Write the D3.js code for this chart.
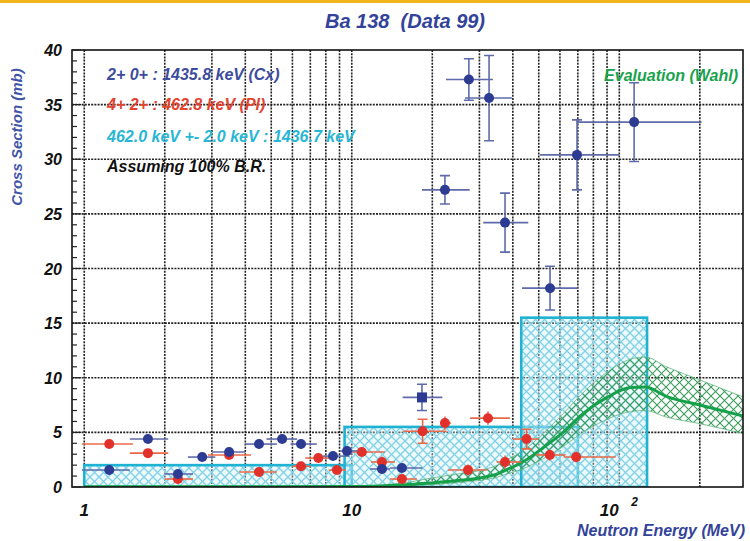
<!DOCTYPE html>
<html>
<head>
<meta charset="utf-8">
<script src="https://cdn.jsdelivr.net/npm/d3@7"></script>
<style>
  body { margin: 0; background: #fff; }
  svg text { font-family: "Liberation Sans", Arial, sans-serif; font-weight: bold; font-style: italic; white-space: pre; }
</style>
</head>
<body>
<div id="chart"></div>
<script>
// 2+ 0+ : 1435.8 keV (Cx) - blue points
const cxE   = [1.24, 1.73, 2.24, 2.76, 3.48, 4.5, 5.49, 6.46, 8.51, 9.6, 12.97, 15.4, 18.3, 22.3, 27.4, 32.6, 37.4, 55.1, 69.5, 113.6];
const cxV   = [1.55, 4.39, 1.19, 2.74, 3.2, 3.93, 4.39, 3.93, 2.83, 3.3, 1.65, 1.74, 8.2, 27.2, 37.3, 35.6, 24.2, 18.2, 30.4, 33.4];
const cxDy  = [0.3, 0.4, 0.3, 0.3, 0.3, 0.4, 0.3, 0.4, 0.4, 0.4, 0.3, 0.3, 1.2, 1.3, 1.9, 3.9, 2.7, 2.0, 3.2, 3.6];
const cxElo = [0.98, 1.48, 2.0, 2.44, 3.0, 4.0, 4.8, 5.9, 7.8, 9.0, 11.7, 13.9, 15.5, 18.3, 22.5, 26.5, 31, 43.3, 50.5, 69.5];
const cxEhi = [1.48, 2.06, 2.55, 3.09, 4.0, 5.25, 6.25, 7.4, 9.8, 10.5, 13.9, 18.4, 21.8, 27.6, 33.7, 39.7, 45.7, 69.8, 100, 203];
const cxSquare = 12; // index drawn with a square marker

// 4+ 2+ : 462.8 keV (Pl) - red points
const plE   = [1.24, 1.73, 2.24, 3.48, 4.5, 6.46, 7.5, 8.8, 10.9, 12.97, 15.4, 18.4, 22.3, 32.3, 27.2, 37.4, 45, 55, 69];
const plV   = [3.93, 3.1, 0.73, 2.93, 1.37, 1.9, 2.65, 1.55, 3.2, 2.29, 0.73, 5.1, 5.85, 6.3, 1.55, 2.29, 4.39, 2.93, 2.74];
const plDy  = [0.3, 0.3, 0.2, 0.3, 0.3, 0.4, 0.4, 0.3, 0.4, 0.5, 0.3, 1.1, 0.6, 0.6, 0.5, 0.6, 0.9, 0.5, 0.5];
const plElo = [0.98, 1.48, 2.0, 2.9, 3.8, 6.0, 6.7, 8.2, 9.4, 11.8, 13.9, 15.6, 21.5, 27.7, 22.9, 34.8, 40, 49, 62];
const plEhi = [1.52, 2.06, 2.55, 4.2, 5.25, 7.0, 8.5, 9.5, 13.3, 14.5, 17.5, 22.6, 23.5, 39, 32, 43, 50, 63, 97];

// 462.0 keV +- 2.0 keV : 1436.7 keV - cyan boxes
const boxElo = [1, 9.4, 43];
const boxEhi = [10, 70, 127];
const boxV   = [2.0, 5.5, 15.5];

// Evaluation (Wahl)
const evE     = [1, 5, 10, 13, 16, 19.6, 25, 30, 35, 38, 43, 52, 61.6, 73, 90, 110, 125, 150, 200, 300];
const evV     = [0.02, 0.02, 0.05, 0.1, 0.2, 0.37, 0.6, 0.82, 1.2, 1.6, 2.2, 3.6, 5.0, 6.7, 8.2, 9.1, 9.15, 8.3, 7.5, 6.4];
const evUpper = [0.05, 0.05, 0.1, 0.2, 0.4, 0.8, 1.2, 1.5, 2.0, 2.5, 3.2, 4.9, 6.7, 8.6, 10.5, 11.7, 11.9, 11.0, 9.8, 8.1];
const evLower = [0, 0, 0, 0.05, 0.1, 0.2, 0.4, 0.6, 0.9, 1.2, 1.6, 2.6, 3.7, 5.0, 6.2, 6.9, 7.0, 6.4, 5.8, 4.8];

const yTicks = [0, 5, 10, 15, 20, 25, 30, 35, 40];

const width = 750, height = 541;
const mLeft = 72, mRight = 743, mTop = 50, mBottom = 487;

const svg = d3.select('#chart').append('svg')
  .attr('width', width).attr('height', height);

const defs = svg.append('defs');
defs.append('clipPath').attr('id', 'plotclip')
  .append('rect').attr('x', mLeft).attr('y', mTop).attr('width', mRight - mLeft).attr('height', mBottom - mTop);

function hatch(id, color, bg, sw) {
  const p = defs.append('pattern').attr('id', id)
    .attr('patternUnits', 'userSpaceOnUse').attr('width', 9).attr('height', 9);
  if (bg) p.append('rect').attr('width', 9).attr('height', 9).attr('fill', bg);
  p.append('path').attr('d', 'M-1,-1 L10,10 M-1,8 L1,10 M8,-1 L10,1').attr('stroke', color).attr('stroke-width', sw);
  p.append('path').attr('d', 'M-1,10 L10,-1 M-1,1 L1,-1 M8,10 L10,8').attr('stroke', color).attr('stroke-width', sw);
}
hatch('cyanHatch', '#7fd2e6', 'rgba(205,238,246,0.35)', 1.3);
hatch('greenHatch', '#3a9d5c', null, 1.1);

// top strip
svg.append('rect').attr('x', 0).attr('y', 0).attr('width', width).attr('height', 3).attr('fill', '#f2b51c');

const x = d3.scaleLog().domain([0.9, 290]).range([mLeft, mRight]);
const y = d3.scaleLinear().domain([0, 40]).range([mBottom, mTop]);

// grid
const gridX = [];
[1, 10, 100].forEach(d => { for (let k = 1; k <= 9; k++) { const v = k * d; if (v > 0.9 && v < 290) gridX.push(v); } });
const grid = svg.append('g');
grid.selectAll('line.gx').data(gridX).enter().append('line')
  .attr('x1', d => x(d)).attr('x2', d => x(d)).attr('y1', mTop).attr('y2', mBottom)
  .attr('stroke', '#222').attr('stroke-width', 1.6).attr('stroke-dasharray', '2,1.2');
grid.selectAll('line.gy').data(yTicks.slice(1, -1)).enter().append('line')
  .attr('x1', mLeft).attr('x2', mRight).attr('y1', d => y(d)).attr('y2', d => y(d))
  .attr('stroke', '#222').attr('stroke-width', 1.6).attr('stroke-dasharray', '2,1.2');

const plot = svg.append('g').attr('clip-path', 'url(#plotclip)');

// cyan boxes
plot.selectAll('rect.box').data(boxV).enter().append('rect')
  .attr('x', (d, i) => x(boxElo[i]))
  .attr('width', (d, i) => x(boxEhi[i]) - x(boxElo[i]))
  .attr('y', d => y(d))
  .attr('height', d => y(0) - y(d))
  .attr('fill', 'url(#cyanHatch)')
  .attr('stroke', '#1fb2d2').attr('stroke-width', 2.6);

// evaluation band and curve
const band = d3.area().x((d, i) => x(evE[i])).y0((d, i) => y(evLower[i])).y1((d, i) => y(evUpper[i])).curve(d3.curveMonotoneX);
plot.append('path').datum(evV).attr('d', band)
  .attr('fill', 'url(#greenHatch)').attr('stroke', '#5fb57c').attr('stroke-width', 0.8);
const line = d3.line().x((d, i) => x(evE[i])).y((d, i) => y(d)).curve(d3.curveMonotoneX);
plot.append('path').datum(evV).attr('d', line)
  .attr('fill', 'none').attr('stroke', '#15a04a').attr('stroke-width', 3);

// data points with error bars
function points(E, V, dy, elo, ehi, col, barCol, square) {
  const g = plot.append('g');
  const idx = d3.range(E.length);
  g.selectAll('line.ex').data(idx).enter().append('line')
    .attr('x1', i => x(elo[i])).attr('x2', i => x(ehi[i]))
    .attr('y1', i => y(V[i])).attr('y2', i => y(V[i]))
    .attr('stroke', barCol).attr('stroke-width', 1.6);
  g.selectAll('line.ey').data(idx).enter().append('line')
    .attr('x1', i => x(E[i])).attr('x2', i => x(E[i]))
    .attr('y1', i => y(V[i] - dy[i])).attr('y2', i => y(V[i] + dy[i]))
    .attr('stroke', barCol).attr('stroke-width', 1.6);
  g.selectAll('path.cap').data(idx.filter(i => dy[i] > 0.6)).enter().append('path')
    .attr('d', i => `M${x(E[i]) - 5},${y(V[i] - dy[i])}h10M${x(E[i]) - 5},${y(V[i] + dy[i])}h10`)
    .attr('stroke', barCol).attr('stroke-width', 1.6);
  g.selectAll('circle').data(idx.filter(i => i !== square)).enter().append('circle')
    .attr('cx', i => x(E[i])).attr('cy', i => y(V[i])).attr('r', 5).attr('fill', col);
  if (square != null) {
    g.append('rect').attr('x', x(E[square]) - 5).attr('y', y(V[square]) - 5)
      .attr('width', 10).attr('height', 10).attr('fill', col);
  }
}
points(plE, plV, plDy, plElo, plEhi, '#e2302b', '#ea6a48', null);
points(cxE, cxV, cxDy, cxElo, cxEhi, '#2d3c92', '#5f6aaa', cxSquare);

// frame
svg.append('rect').attr('x', mLeft).attr('y', mTop).attr('width', mRight - mLeft).attr('height', mBottom - mTop)
  .attr('fill', 'none').attr('stroke', '#111').attr('stroke-width', 1.6);

// y minor ticks
const yMinor = d3.range(0, 41);
svg.append('g').selectAll('line').data(yMinor).enter().append('line')
  .attr('x1', mLeft).attr('x2', d => mLeft + (d % 5 === 0 ? 9 : 5))
  .attr('y1', d => y(d)).attr('y2', d => y(d))
  .attr('stroke', '#222').attr('stroke-width', 1.2);

// y tick labels
svg.append('g').selectAll('text').data(yTicks).enter().append('text')
  .attr('x', 62).attr('y', d => y(d) + 6)
  .attr('text-anchor', 'end').attr('font-size', 16).attr('fill', '#111')
  .text(d => d);

// x tick labels
const xl = svg.append('g').attr('font-size', 17).attr('fill', '#111');
xl.append('text').attr('x', x(1)).attr('y', 516).attr('text-anchor', 'middle').text('1');
xl.append('text').attr('x', x(10)).attr('y', 516).attr('text-anchor', 'middle').text('10');
xl.append('text').attr('x', x(100) - 10).attr('y', 516).attr('text-anchor', 'middle').text('10');
xl.append('text').attr('x', x(100) + 12).attr('y', 506).attr('font-size', 12).text('2');

// titles
svg.append('text').attr('x', 405).attr('y', 28).attr('text-anchor', 'middle')
  .attr('font-size', 20).attr('fill', '#33439a').text('Ba 138  (Data 99)');
svg.append('text').attr('transform', 'translate(22,137) rotate(-90)').attr('text-anchor', 'middle')
  .attr('font-size', 15).attr('fill', '#4155a6').text('Cross Section (mb)');
svg.append('text').attr('x', 745).attr('y', 536).attr('text-anchor', 'end')
  .attr('font-size', 16).attr('fill', '#33439a').text('Neutron Energy (MeV)');

// legend texts
const legend = [
  { t: '2+ 0+ : 1435.8 keV (Cx)', c: '#3d4c9e', y: 80 },
  { t: '4+ 2+ : 462.8 keV (Pl)', c: '#e2432f', y: 110 },
  { t: '462.0 keV +- 2.0 keV : 1436.7 keV', c: '#27b6d4', y: 142 },
  { t: 'Assuming 100% B.R.', c: '#111', y: 172 }
];
svg.append('g').selectAll('text').data(legend).enter().append('text')
  .attr('x', 107).attr('y', d => d.y).attr('font-size', 16).attr('fill', d => d.c)
  .text(d => d.t);
svg.append('text').attr('x', 738).attr('y', 81).attr('text-anchor', 'end')
  .attr('font-size', 16).attr('fill', '#18a24c').text('Evaluation (Wahl)');
</script>
</body>
</html>
